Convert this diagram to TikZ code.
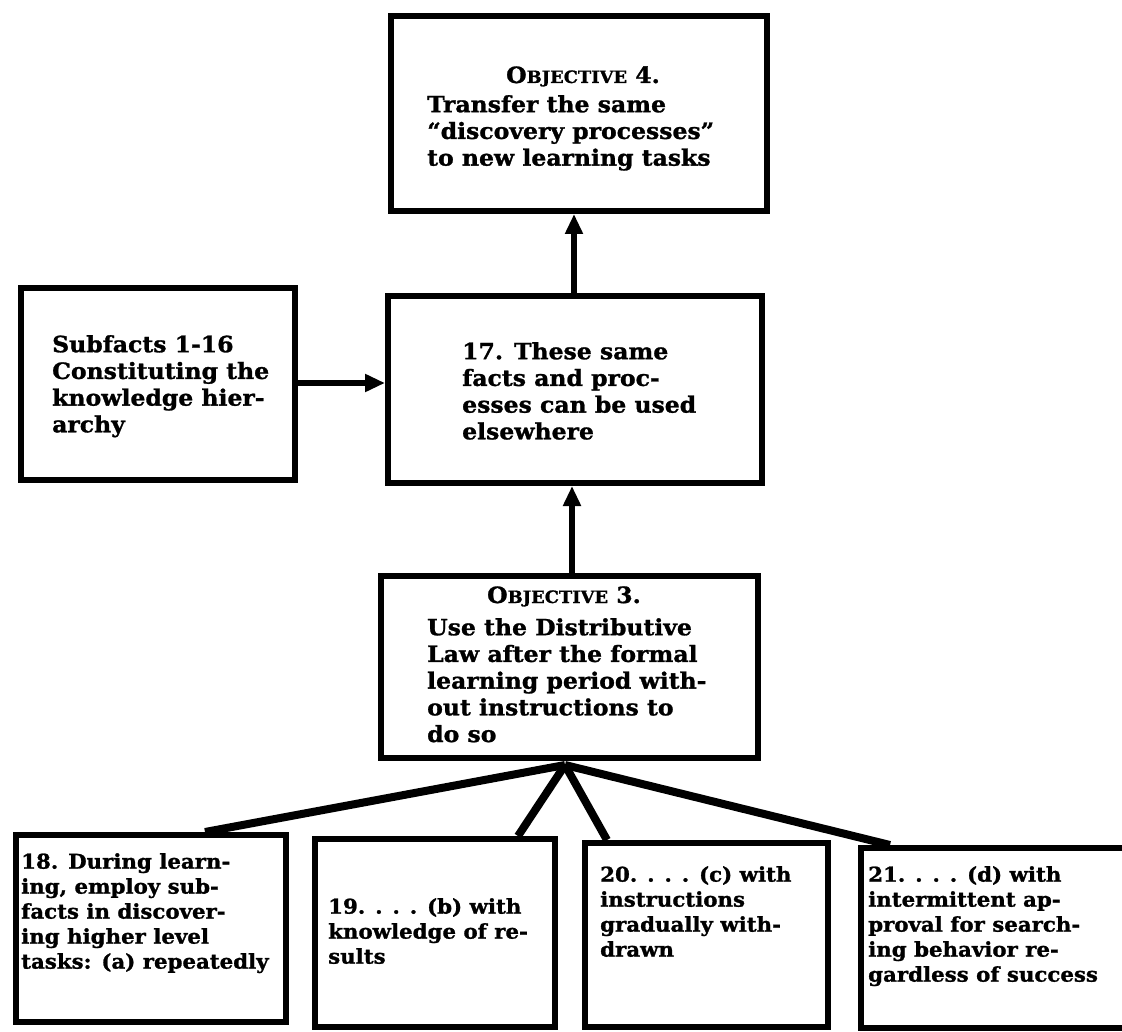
\documentclass[tikz,border=0pt]{standalone}
\usepackage{fontspec}
\setmainfont{DejaVu Serif}[FakeStretch=1.05,BoldFeatures={FakeBold=1.2}]
\usetikzlibrary{arrows.meta,calc}
\newcommand{\mkbox}[5]{\node[box,minimum width={#4-#2},minimum height={#5-#3}] (#1) at ({(#2+#4)/2},{(#3+#5)/2}) {};}
\newcommand{\fsc}[1]{{\fontsize{17}{17}\selectfont #1}}
\begin{document}
\begin{tikzpicture}[x=1pt,y=-1pt,
  box/.style={draw,line width=6pt,inner sep=0pt,rectangle},
  txt/.style={anchor=north west,inner sep=0pt,align=left,font=\bfseries\fontsize{20.3}{25}\selectfont},
  txtb/.style={anchor=north west,inner sep=0pt,align=left,font=\bfseries\fontsize{22.4}{26.7}\selectfont},
  head/.style={anchor=base,inner sep=0pt,font=\bfseries\fontsize{22.4}{26.7}\selectfont},
  arr/.style={line width=6pt,-{Triangle[length=20pt,width=17pt]}},
  fan/.style={line width=8pt},
]
\useasboundingbox (0,0) rectangle (1122,1032);
\clip (0,0) rectangle (1122,1032);
\fill[white] (0,0) rectangle (1122,1032);
% boxes
\mkbox{obj4}{391}{16}{767}{211}
\mkbox{sub}{21}{288}{295}{480}
\mkbox{b17}{388}{296}{762}{483}
\mkbox{obj3}{381}{576}{758}{758}
\mkbox{b18}{16}{835}{286}{1022}
\mkbox{b19}{315}{839}{555}{1027}
\mkbox{b20}{585}{843}{828}{1027}
\mkbox{b21}{861}{848}{1140}{1028}
% texts
\node[head] (h4) at (583,83) {O\fsc{BJECTIVE} 4.};
\node[txtb] (t4) at (427,95) {Transfer the same\\“discovery processes”\\to new learning tasks};
\node[txtb] (tsub) at (52,335) {Subfacts 1-16\\Constituting the\\knowledge hier-\\archy};
\node[txtb] (t17) at (462,342) {17. These same\\facts and proc-\\esses can be used\\elsewhere};
\node[head] (h3) at (564,603) {O\fsc{BJECTIVE} 3.};
\node[txtb] (t3) at (427,618) {Use the Distributive\\Law after the formal\\learning period with-\\out instructions to\\do so};
\node[txt] (t18) at (21,853) {18. During learn-\\ing, employ sub-\\facts in discover-\\ing higher level\\tasks: (a) repeatedly};
\node[txt] (t19) at (328,898) {19. . . . (b) with\\knowledge of re-\\sults};
\node[txt] (t20) at (600,866) {20. . . . (c) with\\instructions\\gradually with-\\drawn};
\node[txt] (t21) at (868,866) {21. . . . (d) with\\intermittent ap-\\proval for search-\\ing behavior re-\\gardless of success};
% helper coordinates
\coordinate (xa) at (574,0);
\coordinate (xb) at (572,0);
\coordinate (ya) at (0,383);
\coordinate (apex) at (565,765);
\coordinate (x18) at (205,0);
\coordinate (x19) at (518,0);
\coordinate (x20) at (607,0);
\coordinate (x21) at (890,0);
% connectors
\draw[arr] (b17.north -| xa) -- (obj4.south -| xa);
\draw[arr] (obj3.north -| xb) -- (b17.south -| xb);
\draw[arr] (sub.east |- ya) -- (b17.west |- ya);
\draw[fan] (apex) -- (x18 |- b18.north);
\draw[fan] (apex) -- (x19 |- b19.north);
\draw[fan] (apex) -- (x20 |- b20.north);
\draw[fan] (apex) -- (x21 |- b21.north);
\end{tikzpicture}
\end{document}
